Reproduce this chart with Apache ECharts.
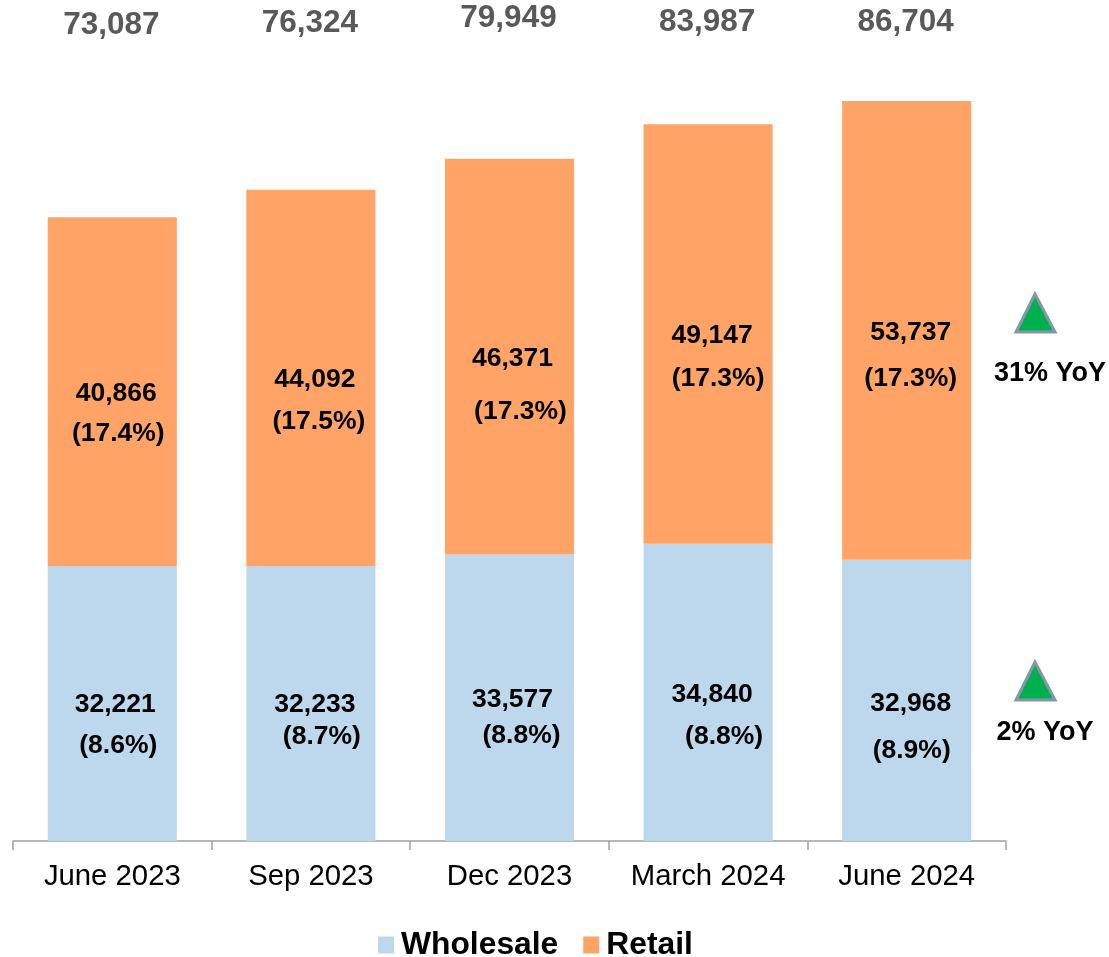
<!DOCTYPE html>
<html><head><meta charset="utf-8">
<style>html,body{margin:0;padding:0;background:#fff}#c{width:1109px;height:957px}</style>
<script src="https://cdn.jsdelivr.net/npm/echarts@6/dist/echarts.min.js"></script>
</head><body><div id="c"></div>
<script>
const categories = ['June 2023','Sep 2023','Dec 2023','March 2024','June 2024'];
const wholesale = [32221,32233,33577,34840,32968];
const retail = [40866,44092,46371,49147,53737];
const totals = [73087,76324,79949,83987,86704];
const wholesalePct = ['(8.6%)','(8.7%)','(8.8%)','(8.8%)','(8.9%)'];
const retailPct = ['(17.4%)','(17.5%)','(17.3%)','(17.3%)','(17.3%)'];
const font = 'Liberation Sans, Arial, sans-serif';
const fmt = v => v.toLocaleString('en-US');
// hand-placed label nudges from the reference
const wNumOff = [[3,1],[4,1],[3,2],[4,2],[4,3]];
const wPctOff = [[6,42],[11,33],[12,38],[16,44],[5,50]];
const rNumOff = [[4,2],[4,2],[3,2],[4,2],[4,2]];
const rPctOff = [[6,42],[8,44],[11,55],[10,45],[4,48]];
const totOff = [[-1,-192],[-1,-166],[-1,-140],[-1,-102],[-1,-79]];
const textLabel = {show:true,opacity:1,color:'#000',fontFamily:font,fontSize:26.5,fontWeight:'bold'};
const hidden = {type:'line',symbol:'circle',symbolSize:1,itemStyle:{color:'transparent'},lineStyle:{width:0,color:'transparent'},silent:true,clip:false};
const chart = echarts.init(document.getElementById('c'));
chart.setOption({
 animation:false,
 grid:{left:13,right:103,top:73,bottom:116},
 legend:{bottom:-9,left:373,itemWidth:16,itemHeight:17,itemGap:25,icon:'rect',
   textStyle:{fontFamily:font,fontSize:31.8,fontWeight:'bold',color:'#000',padding:[0,0,0,2]},
   data:['Wholesale','Retail']},
 xAxis:{type:'category',data:categories,
   axisLine:{lineStyle:{color:'#a0a0a0',width:1.5}},
   axisTick:{show:true,length:9,interval:0,lineStyle:{color:'#a0a0a0',width:1.5}},
   axisLabel:{color:'#000',fontFamily:font,fontSize:29.3,margin:21,interval:0,hideOverlap:false}},
 yAxis:{type:'value',min:0,max:90000,show:false,splitLine:{show:false}},
 series:[
  {name:'Wholesale',type:'bar',stack:'a',barWidth:'65%',itemStyle:{color:'#BDD8EC'},
   data:wholesale.map((v,i)=>({value:v,label:{...textLabel,position:'inside',formatter:fmt(v),offset:wNumOff[i]}}))},
  {name:'Retail',type:'bar',stack:'a',itemStyle:{color:'#FFA366'},
   data:retail.map((v,i)=>({value:v,label:{...textLabel,position:'inside',formatter:fmt(v),offset:rNumOff[i]}}))},
  {...hidden,name:'WholesalePct',data:wholesale.map((v,i)=>({value:v/2,label:{...textLabel,position:'inside',formatter:wholesalePct[i],offset:wPctOff[i]}}))},
  {...hidden,name:'RetailPct',data:retail.map((v,i)=>({value:wholesale[i]+v/2,label:{...textLabel,position:'inside',formatter:retailPct[i],offset:rPctOff[i]}}))},
  {...hidden,name:'Total',data:totals.map((v,i)=>({value:v,label:{...textLabel,position:'inside',formatter:fmt(v),color:'#595959',fontSize:31.5,offset:totOff[i]}}))}
 ],
 graphic:[
  {type:'polygon',shape:{points:[[1035,294],[1016,332],[1055,332]]},style:{fill:'#00B050',stroke:'#8497A8',lineWidth:3,lineJoin:'miter'}},
  {type:'polygon',shape:{points:[[1035,662],[1016,700],[1055,700]]},style:{fill:'#00B050',stroke:'#8497A8',lineWidth:3,lineJoin:'miter'}},
  {type:'text',x:1050,y:374,style:{text:'31% YoY',font:'bold 27px '+font,fill:'#000',textAlign:'center',textVerticalAlign:'middle'}},
  {type:'text',x:1045,y:733,style:{text:'2% YoY',font:'bold 27px '+font,fill:'#000',textAlign:'center',textVerticalAlign:'middle'}}
 ]
});
</script></body></html>
